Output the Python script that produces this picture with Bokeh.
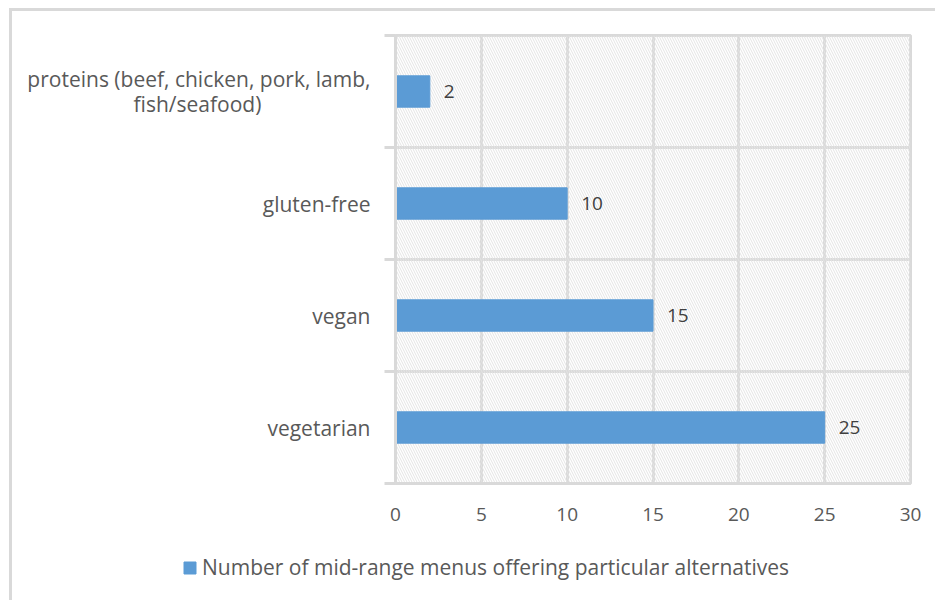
from bokeh.plotting import figure
from bokeh.models import (FixedTicker, BoxAnnotation, Legend, LegendItem,
                          ColumnDataSource, LabelSet)
from bokeh.core.properties import value
from bokeh.embed import file_html
from bokeh.resources import INLINE

# Menu alternatives, bottom to top
categories = ["vegetarian", "vegan", "gluten-free",
              "proteins (beef, chicken, pork, lamb,\nfish/seafood)"]
counts = [25, 15, 10, 2]
x_ticks = [0, 5, 10, 15, 20, 25, 30]
series_name = "Number of mid-range menus offering particular alternatives"

GRID = "#d9d9d9"
BAR = "#5b9bd5"
FONT = "Open Sans"
NUM_SIZE = "19px"
CAT_SIZE = "21px"
LEGEND_SIZE = "21px"

positions = [i + 0.5 for i in range(len(categories))]
source = ColumnDataSource(dict(y=positions, count=counts,
                               label=[str(c) for c in counts]))

# second line of the long category label, padded so both lines share a centre
NBSP = "\u00a0"
y_labels = [c.replace("\nfish/seafood)", "\nfish/seafood)" + NBSP * 20)
            for c in categories]

p = figure(width=926, height=522, x_range=(0, 30), y_range=(0, len(categories)),
           output_backend="svg", toolbar_location=None,
           min_border_left=383, min_border_right=28,
           min_border_top=24, min_border_bottom=50)
# the chart sits inside a thin frame along its top and left edges
p.styles = {"margin-left": "9px", "margin-top": "8px",
            "border-top": f"3px solid {GRID}", "border-left": f"3px solid {GRID}"}
p.background_fill_color = "white"
p.border_fill_color = "white"
p.outline_line_color = GRID
p.outline_line_width = 3

# fine diagonal hatching over the plotting area
p.add_layout(BoxAnnotation(fill_alpha=0, line_color=None, hatch_pattern="\\",
                           hatch_color="#e4e4e4", hatch_scale=5, hatch_weight=1,
                           level="underlay"))

bars = p.hbar(y="y", right="count", left=0, height=0.28, source=source,
              fill_color=BAR, line_color=BAR)

p.add_layout(LabelSet(x="count", y="y", text="label", source=source,
                      x_offset=14, text_baseline="middle",
                      text_font=value(FONT), text_font_size=NUM_SIZE,
                      text_color="#404040"))

# x axis
p.xaxis.ticker = FixedTicker(ticks=x_ticks)
p.xaxis.axis_line_color = GRID
p.xaxis.axis_line_width = 3
p.xaxis.major_tick_line_color = None
p.xaxis.minor_tick_line_color = None
p.xaxis.major_label_standoff = 18
p.xaxis.major_label_text_font = FONT
p.xaxis.major_label_text_font_size = NUM_SIZE
p.xaxis.major_label_text_color = "#595959"

# y axis: labels at band centres, tick marks at band boundaries
p.yaxis.ticker = FixedTicker(ticks=positions,
                             minor_ticks=list(range(len(categories) + 1)))
p.yaxis.major_label_overrides = {pos: c for pos, c in zip(positions, y_labels)}
p.yaxis.axis_line_color = GRID
p.yaxis.axis_line_width = 3
p.yaxis.major_tick_line_color = None
p.yaxis.minor_tick_line_color = GRID
p.yaxis.minor_tick_line_width = 3
p.yaxis.minor_tick_out = 11
p.yaxis.minor_tick_in = 0
p.yaxis.major_label_standoff = 14
p.yaxis.major_label_text_font = FONT
p.yaxis.major_label_text_font_size = CAT_SIZE
p.yaxis.major_label_text_line_height = 0.9
p.yaxis.major_label_text_color = "#595959"

# grid lines at every x tick and every band boundary
p.xgrid.ticker = FixedTicker(ticks=x_ticks)
p.xgrid.grid_line_color = GRID
p.xgrid.grid_line_width = 3
p.ygrid.ticker = FixedTicker(ticks=list(range(len(categories) + 1)))
p.ygrid.grid_line_color = GRID
p.ygrid.grid_line_width = 3

# legend strip underneath the chart; its key glyph shares the bar styling,
# the bars themselves fall outside this strip's x range
leg = figure(width=926, height=70, output_backend="svg", toolbar_location=None,
             min_border=0, x_range=(-2, -1), y_range=(0, 1))
leg.styles = {"margin-left": "9px", "border-left": f"3px solid {GRID}"}
leg.axis.visible = False
leg.grid.visible = False
leg.outline_line_color = None
leg.background_fill_color = "white"
leg.border_fill_color = "white"
key = leg.hbar(y="y", right="count", left=0, height=0.28, source=source,
               fill_color=BAR, line_color=BAR)
legend = Legend(items=[LegendItem(label=series_name, renderers=[key])],
                location=(170, 19), orientation="horizontal",
                padding=0, margin=0, border_line_color=None,
                background_fill_alpha=0, glyph_width=15, glyph_height=15,
                label_standoff=5, label_height=15, label_text_font=FONT,
                label_text_font_size=LEGEND_SIZE, label_text_color="#595959")
leg.add_layout(legend)

open("out.html", "w").write(file_html([p, leg], INLINE))
